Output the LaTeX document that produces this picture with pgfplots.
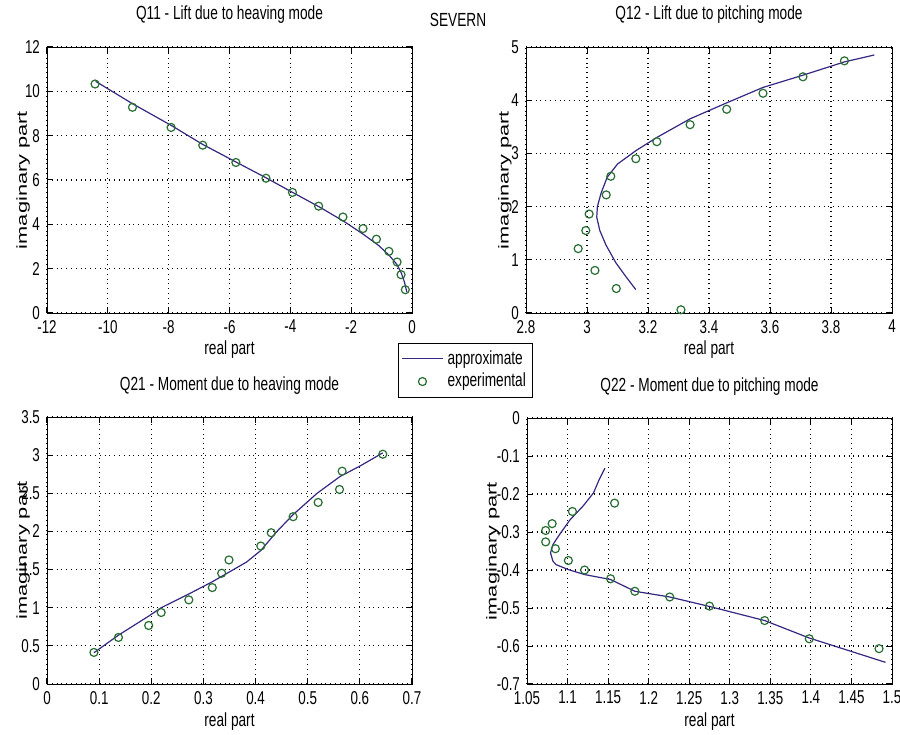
\documentclass[border=0pt]{standalone}
\usepackage{pgfplots}
\pgfplotsset{compat=1.18}
\usepackage{fontspec}
\setmainfont{Liberation Sans}[FakeStretch=0.72]
\newfontfamily\ylfont{Liberation Sans}
\definecolor{approx}{RGB}{52,40,130}
\definecolor{expc}{RGB}{40,110,50}
\definecolor{expfill}{RGB}{225,240,215}
\newcommand{\yl}{\scalebox{1}[0.66]{imaginary part}}
\pgfplotsset{
  mstyle/.style={
    scale only axis,
    axis line style={black},
    tick style={black, line width=0.5pt},
    tick align=inside,
    major tick length=3pt,
    grid=major,
    grid style={black, dotted, line width=0.6pt},
    /pgf/number format/assume math mode=true,
    ticklabel style={font=\fontsize{9.3}{10}\selectfont},
    title style={font=\fontsize{9.5}{11}\selectfont, anchor=center},
    xlabel style={font=\fontsize{9.5}{11}\selectfont, anchor=center},
    ylabel style={font=\ylfont\fontsize{10.9}{12}\selectfont, anchor=center},
    legend style={font=\fontsize{9.5}{11}\selectfont},
    legend image code/.code={\draw[mark repeat=2,mark phase=2,##1] plot coordinates {(0cm,0cm) (0.36cm,0cm) (0.72cm,0cm)};},
  },
  apx/.style={color=approx, line width=0.6pt, no marks},
  expm/.style={only marks, mark=o, mark size=2pt, mark options={draw=expc, fill=expfill, line width=0.6pt}},
}
\begin{document}
\begin{tikzpicture}
\useasboundingbox (0,0) rectangle (450pt,367pt);
\node[font=\fontsize{9.5}{11}\selectfont] at (229pt,357pt) {SEVERN};
% Q11
\begin{axis}[mstyle, at={(23.5pt,210.5pt)}, anchor=south west,
  width=182.5pt, height=133pt,
  xmin=-12, xmax=0, ymin=0, ymax=12,
  xtick={-12,-10,...,0}, ytick={0,2,...,12},
  title={Q11 - Lift due to heaving mode},
  title style={at={(axis description cs:0.5,1)}, yshift=10pt},
  xlabel={real part}, xlabel style={at={(axis description cs:0.5,-0.139)}},
  ylabel={\yl}, ylabel style={at={(axis description cs:-0.0650,0.5)}},
  legend style={at={(axis description cs:0.9616,-0.1128)}, anchor=north west, draw=black, inner sep=1.5pt, row sep=-1pt, cells={anchor=west}},
  legend cell align=left,
]
\addplot[apx] coordinates {
(-10.40,10.45) (-9.20,9.45) (-7.90,8.45) (-6.90,7.62) (-5.80,6.82) (-4.80,6.10)
(-3.90,5.42) (-3.00,4.75) (-2.20,4.10) (-1.60,3.55) (-1.10,3.05) (-0.75,2.60)
(-0.50,2.20) (-0.35,1.80) (-0.25,1.40) (-0.17,0.95)};
\addlegendentry{approximate}
\addplot[expm] coordinates {
(-10.42,10.33) (-9.19,9.28) (-7.92,8.37) (-6.88,7.57) (-5.79,6.79) (-4.80,6.08)
(-3.93,5.44) (-3.07,4.82) (-2.27,4.33) (-1.61,3.81) (-1.17,3.33) (-0.76,2.78)
(-0.49,2.30) (-0.36,1.73) (-0.22,1.05)};
\addlegendentry{experimental}
\end{axis}
% Q12
\begin{axis}[mstyle, at={(263pt,210.5pt)}, anchor=south west,
  width=183pt, height=133pt,
  xmin=2.8, xmax=4, ymin=0, ymax=5,
  xtick={2.8,3,3.2,3.4,3.6,3.8,4}, ytick={0,1,...,5},
  title={Q12 - Lift due to pitching mode},
  title style={at={(axis description cs:0.5,1)}, yshift=10pt},
  xlabel={real part}, xlabel style={at={(axis description cs:0.5,-0.139)}},
  ylabel={\yl}, ylabel style={at={(axis description cs:-0.0574,0.5)}},
]
\addplot[apx] coordinates {
(3.942,4.85) (3.844,4.72) (3.708,4.47) (3.577,4.24) (3.458,3.95) (3.338,3.65)
(3.229,3.30) (3.160,3.05) (3.100,2.80) (3.066,2.55) (3.046,2.25) (3.034,2.00)
(3.032,1.80) (3.042,1.55) (3.062,1.28) (3.095,0.94) (3.128,0.68) (3.160,0.44)};
\addplot[expm] coordinates {
(3.844,4.74) (3.708,4.44) (3.577,4.13) (3.458,3.83) (3.338,3.54) (3.229,3.22)
(3.160,2.90) (3.078,2.57) (3.063,2.22) (3.007,1.86) (2.996,1.55) (2.971,1.21)
(3.026,0.80) (3.096,0.46) (3.308,0.06)};
\end{axis}
% Q21
\begin{axis}[mstyle, at={(23.5pt,25pt)}, anchor=south west,
  width=182.5pt, height=133.5pt,
  xmin=0, xmax=0.7, ymin=0, ymax=3.5,
  xtick={0,0.1,...,0.7}, ytick={0,0.5,...,3.5},
  title={Q21 - Moment due to heaving mode},
  title style={at={(axis description cs:0.5,1)}, yshift=9.5pt},
  xlabel={real part}, xlabel style={at={(axis description cs:0.5,-0.142)}},
  ylabel={\yl}, ylabel style={at={(axis description cs:-0.0650,0.5)}},
]
\addplot[apx] coordinates {
(0.090,0.41) (0.137,0.64) (0.195,0.89) (0.219,1.00) (0.272,1.18) (0.317,1.34)
(0.345,1.45) (0.383,1.60) (0.410,1.75) (0.441,2.00) (0.472,2.22) (0.518,2.50)
(0.562,2.72) (0.601,2.86) (0.644,3.03)};
\addplot[expm] coordinates {
(0.090,0.414) (0.137,0.610) (0.195,0.767) (0.219,0.937) (0.272,1.103) (0.317,1.264)
(0.335,1.452) (0.349,1.626) (0.410,1.809) (0.430,1.983) (0.472,2.193) (0.520,2.380)
(0.561,2.550) (0.566,2.790) (0.644,3.012)};
\end{axis}
% Q22
\begin{axis}[mstyle, at={(263.5pt,25pt)}, anchor=south west,
  width=182.5pt, height=133pt,
  xmin=1.05, xmax=1.5, ymin=-0.7, ymax=0,
  xtick={1.05,1.1,1.15,1.2,1.25,1.3,1.35,1.4,1.45,1.5},
  ytick={-0.7,-0.6,-0.5,-0.4,-0.3,-0.2,-0.1,0},
  title={Q22 - Moment due to pitching mode},
  title style={at={(axis description cs:0.5,1)}, yshift=9.5pt},
  xlabel={real part}, xlabel style={at={(axis description cs:0.5,-0.142)}},
  ylabel={\yl}, ylabel style={at={(axis description cs:-0.0932,0.5)}},
]
\addplot[apx] coordinates {
(1.492,-0.643) (1.398,-0.579) (1.343,-0.533) (1.275,-0.496) (1.226,-0.471)
(1.183,-0.456) (1.153,-0.425) (1.121,-0.412) (1.101,-0.399) (1.086,-0.386)
(1.082,-0.377) (1.079,-0.355) (1.082,-0.333) (1.090,-0.307) (1.103,-0.268)
(1.119,-0.232) (1.132,-0.197) (1.139,-0.162) (1.146,-0.132)};
\addplot[expm] coordinates {
(1.484,-0.607) (1.398,-0.581) (1.343,-0.533) (1.275,-0.495) (1.226,-0.471)
(1.183,-0.456) (1.153,-0.423) (1.121,-0.400) (1.101,-0.375) (1.085,-0.344)
(1.073,-0.326) (1.073,-0.296) (1.081,-0.278) (1.106,-0.246) (1.158,-0.224)};
\end{axis}
\end{tikzpicture}
\end{document}
